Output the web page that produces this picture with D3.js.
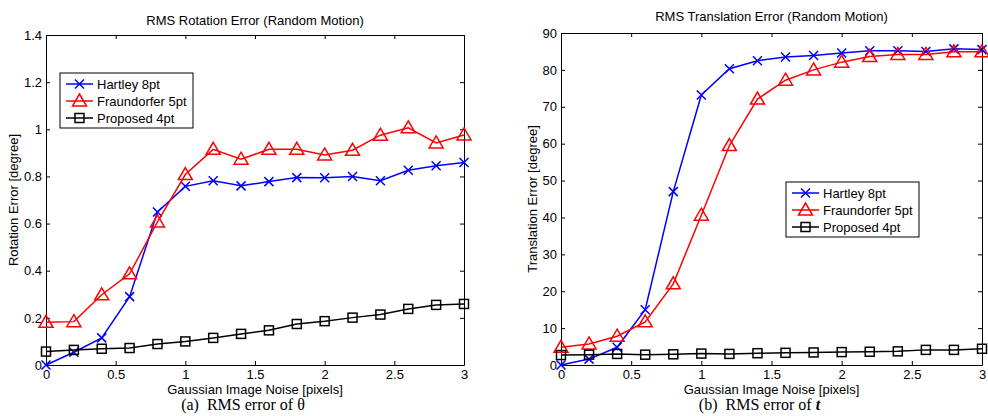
<!DOCTYPE html>
<html>
<head>
<meta charset="utf-8">
<script src="https://cdn.jsdelivr.net/npm/d3@7"></script>
<style>
  body { margin: 0; background: #fff; }
  text { font-family: "Liberation Sans", Arial, sans-serif; fill: #000; }
  .caption { font-family: "Liberation Serif", "Times New Roman", serif; }
</style>
</head>
<body>
<script>
// Chart data
var noise = [0, 0.2, 0.4, 0.6, 0.8, 1.0, 1.2, 1.4, 1.6, 1.8, 2.0, 2.2, 2.4, 2.6, 2.8, 3.0];
var seriesNames = ["Hartley 8pt", "Fraundorfer 5pt", "Proposed 4pt"];

// rotation error (degree)
var rotHartley = [0, 0.054, 0.115, 0.29, 0.649, 0.758, 0.782, 0.76, 0.778, 0.795, 0.794, 0.80, 0.782, 0.826, 0.845, 0.859];
var rotFraundorfer = [0.181, 0.184, 0.298, 0.387, 0.607, 0.808, 0.915, 0.873, 0.915, 0.915, 0.891, 0.911, 0.975, 1.006, 0.942, 0.976];
var rotProposed = [0.057, 0.064, 0.069, 0.072, 0.089, 0.10, 0.115, 0.132, 0.147, 0.174, 0.186, 0.201, 0.214, 0.238, 0.255, 0.259];

// translation error (degree)
var transHartley = [0, 1.6, 4.8, 15.0, 47.0, 73.2, 80.3, 82.5, 83.5, 83.9, 84.6, 85.2, 85.2, 85.0, 85.7, 85.5];
var transFraundorfer = [4.8, 5.7, 7.8, 11.7, 22.0, 40.6, 59.5, 72.1, 77.2, 80.0, 82.1, 83.6, 84.2, 84.2, 84.9, 84.9];
var transProposed = [2.7, 2.8, 3.0, 2.8, 2.9, 3.1, 3.0, 3.2, 3.3, 3.4, 3.5, 3.6, 3.7, 4.1, 4.1, 4.4];

var xTicks = [0, 0.5, 1, 1.5, 2, 2.5, 3];
var rotTicks = [0, 0.2, 0.4, 0.6, 0.8, 1, 1.2, 1.4];
var transTicks = [0, 10, 20, 30, 40, 50, 60, 70, 80, 90];

var colors = ["#0000ff", "#ff0000", "#000000"];
var markers = ["x", "triangle", "square"];

var svg = d3.select("body").append("svg")
  .attr("width", 988)
  .attr("height", 416);

function drawMarker(g, type, x, y, color) {
  if (type === "x") {
    g.append("path")
      .attr("d", `M${x - 4.5},${y - 4.5}L${x + 4.5},${y + 4.5}M${x - 4.5},${y + 4.5}L${x + 4.5},${y - 4.5}`)
      .attr("stroke", color).attr("stroke-width", 1.5).attr("fill", "none");
  } else if (type === "triangle") {
    g.append("path")
      .attr("d", `M${x},${y - 7}L${x + 7},${y + 5}L${x - 7},${y + 5}Z`)
      .attr("stroke", color).attr("stroke-width", 1.5).attr("fill", "none");
  } else {
    g.append("rect")
      .attr("x", x - 4.5).attr("y", y - 4.5)
      .attr("width", 9).attr("height", 9)
      .attr("stroke", color).attr("stroke-width", 1.5).attr("fill", "none");
  }
}

function drawPanel(p) {
  var x = d3.scaleLinear().domain([0, 3]).range([p.left, p.right]);
  var y = d3.scaleLinear().domain(p.yDomain).range([p.bottom, p.top]);
  var g = svg.append("g");

  // axes with inward ticks on all four sides
  var bottomAxis = d3.axisBottom(x).tickValues(xTicks).tickSizeInner(-4).tickSizeOuter(0).tickPadding(5)
    .tickFormat(d => String(d));
  var topAxis = d3.axisTop(x).tickValues(xTicks).tickSizeInner(-4).tickSizeOuter(0).tickFormat("");
  var leftAxis = d3.axisLeft(y).tickValues(p.yTicks).tickSizeInner(-4).tickSizeOuter(0).tickPadding(4)
    .tickFormat(d => String(d));
  var rightAxis = d3.axisRight(y).tickValues(p.yTicks).tickSizeInner(-4).tickSizeOuter(0).tickFormat("");

  [
    [bottomAxis, `translate(0,${p.bottom})`],
    [topAxis, `translate(0,${p.top})`],
    [leftAxis, `translate(${p.left},0)`],
    [rightAxis, `translate(${p.right},0)`]
  ].forEach(function(a) {
    var ag = g.append("g").attr("transform", a[1]).call(a[0]);
    ag.selectAll("text").style("font-size", "13px").style("font-family", "Liberation Sans, Arial, sans-serif");
    ag.selectAll("line").attr("stroke", "#000");
    ag.select(".domain").attr("stroke", "#000");
  });

  // series
  var line = d3.line().x((d, i) => x(noise[i])).y(d => y(d));
  p.series.forEach(function(s, k) {
    g.append("path")
      .attr("d", line(s))
      .attr("fill", "none")
      .attr("stroke", colors[k])
      .attr("stroke-width", 1.5);
    s.forEach(function(v, i) {
      drawMarker(g, markers[k], x(noise[i]), y(v), colors[k]);
    });
  });

  // title and axis labels
  g.append("text")
    .attr("x", (p.left + p.right) / 2).attr("y", p.titleY)
    .attr("text-anchor", "middle").style("font-size", "13px")
    .text(p.title);
  g.append("text")
    .attr("x", (p.left + p.right) / 2).attr("y", 394)
    .attr("text-anchor", "middle").style("font-size", "13px")
    .text("Gaussian Image Noise [pixels]");
  g.append("text")
    .attr("transform", `translate(${p.yLabelX},${(p.top + p.bottom) / 2}) rotate(-90)`)
    .attr("text-anchor", "middle").style("font-size", "13px")
    .text(p.yLabel);

  // legend
  var lg = g.append("g").attr("transform", `translate(${p.legend[0]},${p.legend[1]})`);
  lg.append("rect")
    .attr("x", 0).attr("y", 0).attr("width", 133).attr("height", 55)
    .attr("fill", "#fff").attr("stroke", "#000").attr("stroke-width", 1);
  seriesNames.forEach(function(name, k) {
    var ly = 11 + k * 17;
    lg.append("line")
      .attr("x1", 6).attr("x2", 33).attr("y1", ly).attr("y2", ly)
      .attr("stroke", colors[k]).attr("stroke-width", 1.5);
    drawMarker(lg, markers[k], 19.5, ly, colors[k]);
    lg.append("text")
      .attr("x", 37).attr("y", ly + 4.5)
      .style("font-size", "13px")
      .text(name);
  });

  // caption
  var cap = g.append("text")
    .attr("class", "caption")
    .attr("x", (p.left + p.right) / 2 - 12).attr("y", 410)
    .attr("text-anchor", "middle")
    .style("font-size", "16px")
    .attr("xml:space", "preserve");
  cap.append("tspan").text(p.captionA);
  cap.append("tspan").text(p.captionB)
    .style("font-weight", p.captionBold ? "bold" : "normal")
    .style("font-style", p.captionBold ? "italic" : "normal");
}

drawPanel({
  left: 46, right: 464, top: 35, bottom: 365,
  yDomain: [0, 1.4], yTicks: rotTicks,
  series: [rotHartley, rotFraundorfer, rotProposed],
  title: "RMS Rotation Error (Random Motion)", titleY: 25,
  yLabel: "Rotation Error [degree]", yLabelX: 18,
  legend: [60, 73],
  captionA: "(a)  RMS error of ", captionB: "\u03b8", captionBold: false
});

drawPanel({
  left: 561, right: 982, top: 33, bottom: 365,
  yDomain: [0, 90], yTicks: transTicks,
  series: [transHartley, transFraundorfer, transProposed],
  title: "RMS Translation Error (Random Motion)", titleY: 21,
  yLabel: "Translation Error [degree]", yLabelX: 537,
  legend: [786, 182],
  captionA: "(b)  RMS error of ", captionB: "t", captionBold: true
});
</script>
</body>
</html>
